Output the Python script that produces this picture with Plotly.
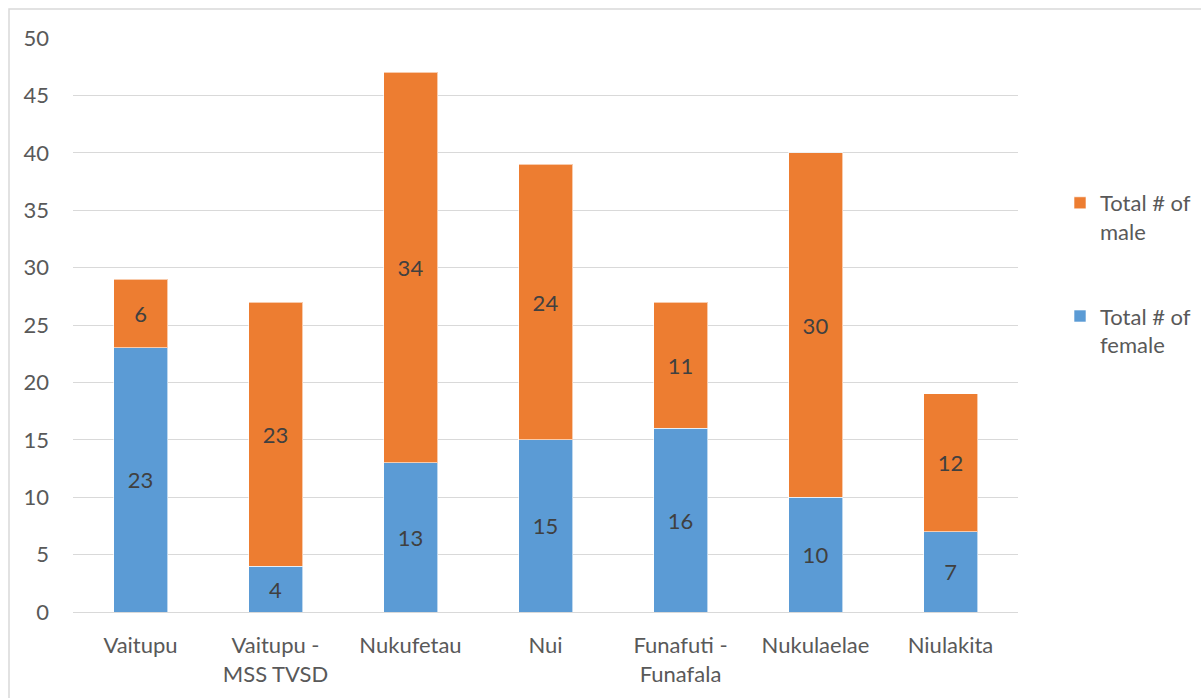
import plotly.graph_objects as go

categories = ["Vaitupu", "Vaitupu -<br>MSS TVSD", "Nukufetau", "Nui",
              "Funafuti -<br>Funafala", "Nukulaelae", "Niulakita"]
female = [23, 4, 13, 15, 16, 10, 7]
male = [6, 23, 34, 24, 11, 30, 12]
y_ticks = [0, 5, 10, 15, 20, 25, 30, 35, 40, 45, 50]

FONT = "Lato"
FS = 22
W, H = 1201, 698
L, R, T, B = 73, 1018, 38, 612

fig = go.Figure()
fig.add_trace(go.Bar(
    x=categories, y=female, name="Total # of<br>female",
    marker=dict(color="#5B9BD5", line=dict(color="rgba(255,255,255,0.6)", width=1)),
    text=female, textposition="inside", insidetextanchor="middle",
    textfont=dict(color="#404040", size=FS, family=FONT),
    width=0.4, legendgroup="f", legendrank=2, hoverinfo="skip"))
fig.add_trace(go.Bar(
    x=categories, y=male, name="Total # of<br>male",
    marker=dict(color="#ED7D31", line=dict(color="rgba(255,255,255,0.6)", width=1)),
    text=male, textposition="inside", insidetextanchor="middle",
    textfont=dict(color="#404040", size=FS, family=FONT),
    width=0.4, legendgroup="m", legendrank=1, hoverinfo="skip"))

def px_x(p):
    return (p - L) / (R - L)

def px_y(p):
    return (B - p) / (B - T)

fig.update_layout(
    width=W, height=H,
    margin=dict(l=L, r=W - R, t=T, b=H - B, autoexpand=False),
    barmode="stack",
    plot_bgcolor="white", paper_bgcolor="white",
    font=dict(family=FONT, size=FS, color="#595959"),
    showlegend=True,
    legend=dict(x=px_x(1060), y=px_y(182), xanchor="left", yanchor="top",
                traceorder="grouped", tracegroupgap=53,
                valign="top", font=dict(size=FS, color="#595959"),
                itemwidth=30),
    xaxis=dict(showgrid=False, showline=False, ticks="", tickangle=0,
               ticklabelstandoff=18,
               tickfont=dict(size=FS, color="#595959")),
    yaxis=dict(range=[0, 50], tickvals=y_ticks, showgrid=True,
               gridcolor="#D9D9D9", gridwidth=1, zeroline=True,
               zerolinecolor="#D9D9D9", zerolinewidth=1, showline=False,
               ticks="", ticklabelstandoff=23,
               tickfont=dict(size=FS, color="#595959")),
    shapes=[dict(type="rect", xref="paper", yref="paper",
                 x0=px_x(9), x1=px_x(1215), y0=px_y(712), y1=px_y(9),
                 line=dict(color="#D9D9D9", width=1.5), layer="below")],
)

fig.write_html("out.html")
